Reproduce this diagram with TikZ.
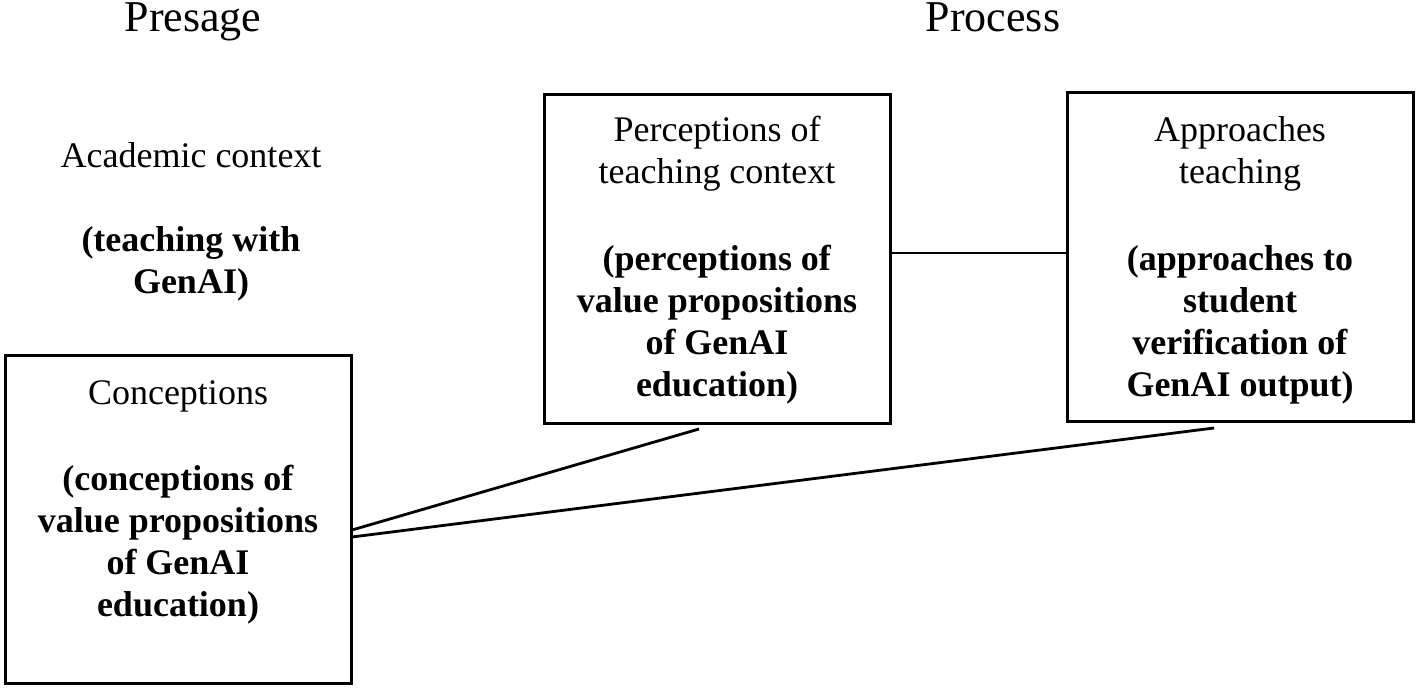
\documentclass[tikz,border=0pt]{standalone}
\usepackage{fontspec}
\setmainfont{Liberation Serif}
\begin{document}
\begin{tikzpicture}[x=0.5pt,y=-0.5pt,
  box/.style={draw=black,line width=1.5pt,minimum width=173pt,minimum height=164pt,inner sep=0pt},
  body/.style={align=center,font=\fontsize{18}{21}\selectfont,inner sep=0pt},
  head/.style={font=\fontsize{22}{26}\selectfont,inner sep=0pt,anchor=base},
  link/.style={line width=1.4pt}]
\useasboundingbox (0,0) rectangle (1416,689);
\node[head] (presage) at (193,32) {Presage};
\node[head] (process) at (993,32) {Process};
\node[body] (acad) at (191,222) {Academic context\\[21pt]\textbf{(teaching with}\\\textbf{GenAI)}};
\node[box] (b1) at (178,519) {};
\node[box] (b2) at (717,259) {};
\node[box] (b3) at (1240,257) {};
\node[body] (t1) at (178,502) {Conceptions\\[22pt]\textbf{(conceptions of}\\\textbf{value propositions}\\\textbf{of GenAI}\\\textbf{education)}};
\node[body] (t2) at (717,260) {Perceptions of\\teaching context\\[22.5pt]\textbf{(perceptions of}\\\textbf{value propositions}\\\textbf{of GenAI}\\\textbf{education)}};
\node[body] (t3) at (1240,260) {Approaches\\teaching\\[22.5pt]\textbf{(approaches to}\\\textbf{student}\\\textbf{verification of}\\\textbf{GenAI output)}};
\coordinate (s1) at (352,530);
\coordinate (s2) at (352,537);
\coordinate (e1) at (699,429);
\coordinate (e2) at (1214,428);
\draw[link] (b2.east |- 0,253) -- (b3.west |- 0,253);
\draw[link] (s1) -- (e1);
\draw[link] (s2) -- (e2);
\end{tikzpicture}
\end{document}
